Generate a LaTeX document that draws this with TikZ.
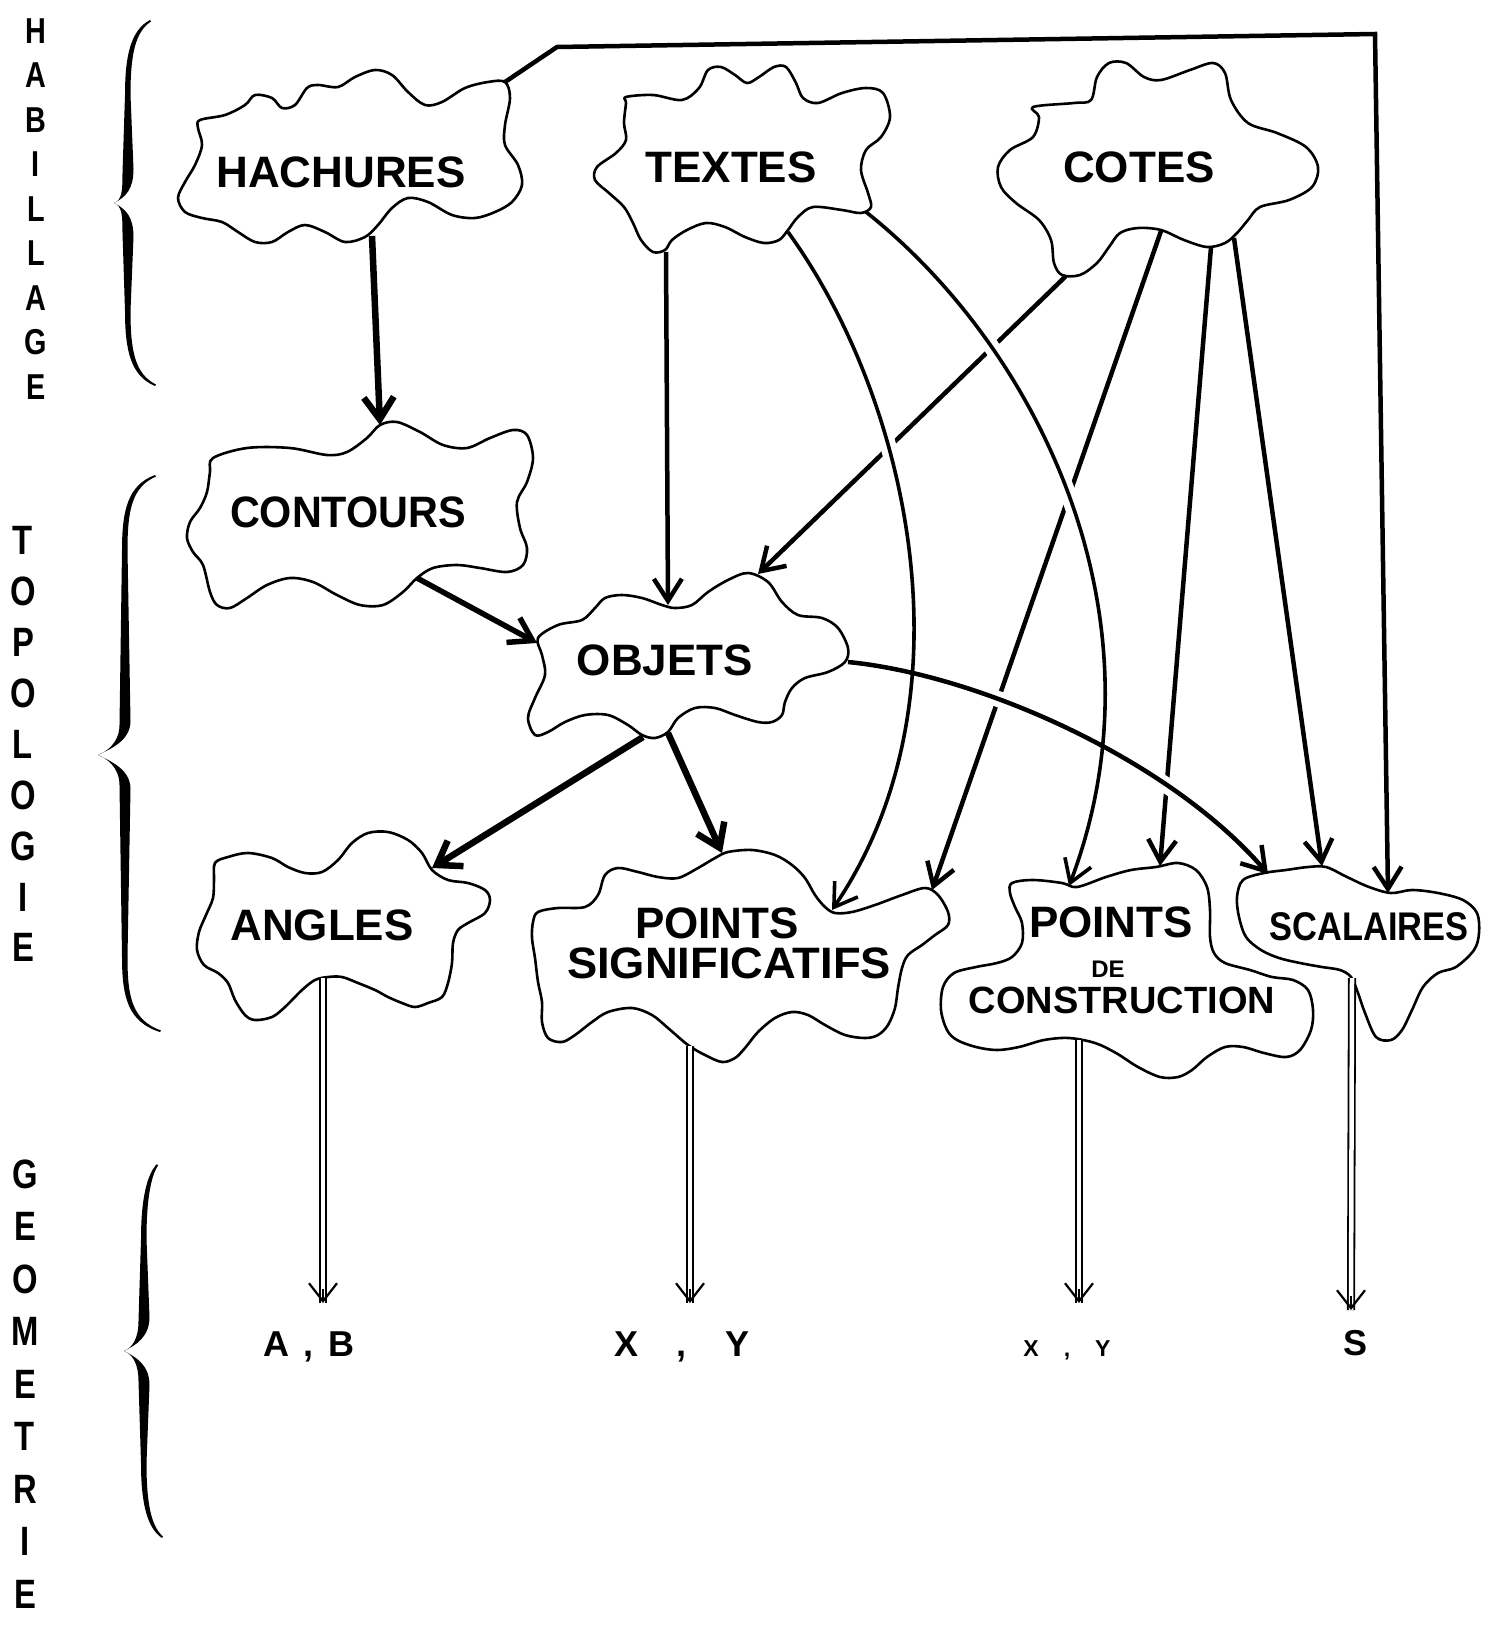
\documentclass[tikz,border=0pt]{standalone}
\usepackage{fontspec}
\setmainfont{Liberation Sans}
\usetikzlibrary{arrows.meta}
% #1 spine x, #2 top y, #3 tip y, #4 bottom y, #5 top end x, #6 tip x
\newcommand{\mybrace}[6]{%
 \fill (#5,#2) .. controls ({#1+3},{#2+10}) and ({#1-3},{#2+35}) .. ({#1-3},{#2+75})
   -- ({#1-5.5},{#3-30}) .. controls ({#1-5.5},{#3-12}) and ({#6+8},{#3-3}) .. (#6,#3)
   .. controls ({#6+12},{#3-6}) and ({#1+5.5},{#3-14}) .. ({#1+5.5},{#3-34})
   -- ({#1+2.5},{#2+75}) .. controls ({#1+2.5},{#2+35}) and ({#1+7},{#2+12}) .. ({#5+1},{#2+1.5}) -- cycle;
 \fill (#6,#3) .. controls ({#6+8},{#3+3}) and ({#1-5.5},{#3+12}) .. ({#1-5.5},{#3+30})
   -- ({#1-3},{#4-75}) .. controls ({#1-3},{#4-35}) and ({#1+3},{#4-10}) .. ({#5+5},#4)
   -- ({#5+6},{#4-1.5}) .. controls ({#1+7},{#4-12}) and ({#1+2.5},{#4-35}) .. ({#1+2.5},{#4-75})
   -- ({#1+5.5},{#3+34}) .. controls ({#1+5.5},{#3+14}) and ({#6+12},{#3+6}) .. (#6,#3) -- cycle;
}
\begin{document}
\begin{tikzpicture}[x=1pt,y=-1pt,
  cloudline/.style={line width=2.6pt, line join=round},
  word/.style={inner sep=0pt, anchor=base, font=\bfseries\fontsize{44}{48}\selectfont},
  sideH/.style={inner sep=0pt, anchor=base, font=\bfseries\fontsize{36}{40}\selectfont},
  side/.style={inner sep=0pt, anchor=base, font=\bfseries\fontsize{41}{44}\selectfont},
  lab/.style={inner sep=0pt, anchor=base, font=\bfseries\fontsize{36}{40}\selectfont},
  labsmall/.style={inner sep=0pt, anchor=base, font=\bfseries\fontsize{23}{26}\selectfont},
  conn/.style={line width=4.5pt, -{Straight Barb[length=22pt,width=28pt]}},
  thinconn/.style={line width=3.6pt, -{Straight Barb[length=22pt,width=28pt]}},
  heavy/.style={line width=6.5pt, -{Straight Barb[length=22pt,width=30pt]}},
  halo/.style={preaction={draw=white, line width=16pt, arrows=-}},
  dblshaft/.style={double, double distance=4.5pt, line width=1.8pt},
  dbltip/.style={line width=2.2pt, -{Straight Barb[length=18pt,width=28pt]}},
]
\fill[white] (0,0) rectangle (1491,1625);
\path[use as bounding box] (0,0) rectangle (1491,1625);

% ---- side labels and braces
\foreach \l [count=\i from 0] in {H,A,B,I,L,L,A,G,E}
  \node[sideH] (hab\i) at (36,{43+44.5*\i}) {\scalebox{0.8}[1]{\l}};
\foreach \l [count=\i from 0] in {T,O,P,O,L,O,G,I,E}
  \node[side] (top\i) at (23,{554.7+50.9*\i}) {\scalebox{0.8}[1]{\l}};
\foreach \l [count=\i from 0] in {G,E,O,M,E,T,R,I,E}
  \node[side] (geo\i) at (25,{1188+52.5*\i}) {\scalebox{0.8}[1]{\l}};
\mybrace{128}{20}{203}{386}{150}{114}
\mybrace{125}{475}{755}{1032}{155}{98}
\mybrace{144}{1164}{1351}{1538}{157}{124}

% ---- ports on the cloud outlines
\coordinate (hach-ne) at (505,82);   \coordinate (hach-s) at (372,236);
\coordinate (bend1) at (557,47);     \coordinate (bend2) at (1375,34);
\coordinate (tex-s) at (666,252);    \coordinate (tex-se1) at (788,232); \coordinate (tex-se2) at (866,212);
\coordinate (cot-sw) at (1066,276);  \coordinate (cot-s1) at (1161,231);
\coordinate (cot-s2) at (1211,247);  \coordinate (cot-s3) at (1234,238);
\coordinate (con-n) at (380,425);    \coordinate (con-se) at (417,578);
\coordinate (obj-w) at (537,643);    \coordinate (obj-n) at (668,605);   \coordinate (obj-ne) at (758,574);
\coordinate (obj-e) at (848,662);    \coordinate (obj-s1) at (643,737);  \coordinate (obj-s2) at (668,733);
\coordinate (ang-ne) at (432,868);   \coordinate (ang-s) at (323,978);
\coordinate (psig-n) at (722,853);   \coordinate (psig-ne1) at (832,910); \coordinate (psig-ne2) at (932,890);
\coordinate (psig-s) at (690,1046);
\coordinate (pcon-n1) at (1069,886); \coordinate (pcon-n2) at (1160,866); \coordinate (pcon-s) at (1079,1040);
\coordinate (scal-n1) at (1268,874); \coordinate (scal-n2) at (1322,866); \coordinate (scal-n3) at (1388,893);
\coordinate (scal-s) at (1352,978);
\coordinate (ab-tip) at (323,1303);  \coordinate (xy-tip) at (690,1303);
\coordinate (xys-tip) at (1079,1303); \coordinate (s-tip) at (1351,1310);

% ---- connectors (lower layer)
\draw[conn] (cot-sw) -- (obj-ne);
\draw[conn] (cot-s1) -- (psig-ne2);
\draw[conn] (cot-s2) -- (pcon-n2);
\draw[conn] (cot-s3) -- (scal-n2);
\path[preaction={draw=white, line width=16pt}] (obj-e) .. controls (980,675) and (1170,760) .. (scal-n1);
\draw[thinconn, halo] (tex-se1) .. controls (910,400) and (975,700) .. (psig-ne1);
\draw[thinconn, halo] (tex-se2) .. controls (1040,350) and (1170,620) .. (pcon-n1);
\draw[conn] (obj-e) .. controls (980,675) and (1170,760) .. (scal-n1);
\draw[conn] (hach-ne) -- (bend1) -- (bend2) -- (scal-n3);
\draw[heavy] (hach-s) -- (con-n);
\draw[conn] (tex-s) -- (obj-n);
\draw[conn, line width=5.5pt] (con-se) -- (obj-w);
\draw[heavy] (obj-s1) -- (ang-ne);
\draw[heavy] (obj-s2) -- (psig-n);

% ---- clouds
\draw[cloudline] plot[smooth cycle, tension=0.55] coordinates {(200,120) (225,115) (245,105) (255,95) (272,98) (282,108) (295,105) (307,88) (318,85) (338,87) (355,77) (375,70) (392,75) (408,92) (425,105) (442,102) (465,88) (488,82) (505,82) (510,98) (505,125) (505,145) (518,165) (522,185) (512,202) (495,212) (475,218) (452,215) (428,202) (408,198) (392,208) (378,225) (365,237) (345,242) (325,232) (305,225) (288,232) (272,242) (255,242) (238,232) (222,222) (202,218) (185,212) (178,198) (185,182) (195,165) (202,145) (198,128)};
\draw[cloudline] plot[smooth cycle, tension=0.55] coordinates {(626,97) (653,95) (682,100) (699,88) (708,70) (721,67) (735,75) (747,83) (759,77) (774,67) (786,67) (796,83) (803,98) (818,103) (842,93) (866,88) (883,93) (890,117) (881,137) (866,150) (861,170) (868,193) (871,207) (861,213) (842,210) (813,207) (798,217) (788,230) (779,240) (764,243) (745,237) (725,227) (706,223) (687,230) (672,240) (665,250) (653,252) (641,240) (633,223) (624,207) (609,193) (595,180) (597,167) (616,153) (626,140) (624,123) (626,103)};
\draw[cloudline] plot[smooth cycle, tension=0.55] coordinates {(1033,107) (1074,103) (1091,100) (1097,77) (1109,63) (1126,63) (1144,77) (1161,80) (1190,70) (1213,63) (1225,73) (1231,100) (1248,123) (1277,133) (1306,147) (1318,167) (1312,187) (1289,200) (1260,207) (1248,220) (1237,233) (1225,243) (1207,247) (1184,240) (1161,230) (1138,228) (1120,233) (1109,247) (1097,263) (1080,275) (1062,275) (1054,263) (1051,240) (1039,220) (1016,203) (1001,187) (998,167) (1010,150) (1033,137) (1039,117)};
\draw[cloudline] plot[smooth cycle, tension=0.55] coordinates {(213,458) (247,448) (290,448) (327,455) (347,452) (367,438) (380,425) (397,422) (420,432) (443,445) (467,448) (490,438) (513,430) (527,435) (533,458) (527,482) (517,502) (520,528) (527,548) (523,565) (507,572) (480,568) (457,565) (433,568) (417,578) (403,592) (383,605) (360,605) (337,595) (313,582) (290,578) (267,585) (247,598) (230,608) (217,605) (210,592) (203,565) (193,552) (187,538) (190,522) (200,508) (207,492) (210,472)};
\draw[cloudline] plot[smooth cycle, tension=0.55] coordinates {(538,638) (558,625) (582,620) (595,608) (605,598) (622,595) (642,598) (662,605) (675,608) (692,605) (708,592) (728,580) (748,573) (768,582) (782,602) (798,615) (822,618) (838,628) (848,648) (845,662) (828,672) (805,678) (792,688) (785,702) (782,715) (772,722) (758,722) (735,715) (715,708) (695,708) (678,718) (668,732) (655,738) (642,735) (628,725) (608,715) (585,715) (565,722) (548,732) (535,735) (528,718) (535,698) (545,675) (542,655)};
\draw[cloudline] plot[smooth cycle, tension=0.55] coordinates {(215,863) (228,857) (248,853) (272,858) (288,867) (305,873) (322,872) (338,860) (352,843) (368,833) (388,832) (408,840) (422,853) (432,870) (448,880) (468,883) (485,890) (490,900) (485,913) (468,923) (458,930) (453,943) (452,963) (448,983) (442,997) (428,1003) (415,1007) (402,1003) (388,997) (375,990) (358,983) (342,977) (328,977) (315,980) (302,990) (285,1007) (272,1017) (255,1020) (245,1015) (235,1000) (228,983) (218,973) (204,965) (197,950) (199,932) (206,915) (213,898) (214,880)};
\draw[cloudline] plot[smooth cycle, tension=0.55] coordinates {(538,912) (558,908) (585,907) (598,895) (605,875) (618,868) (638,872) (658,877) (678,878) (698,868) (715,858) (728,852) (752,850) (775,855) (792,865) (805,878) (815,895) (825,907) (835,913) (852,912) (875,905) (902,895) (925,888) (938,895) (948,912) (948,925) (935,935) (922,945) (908,955) (902,968) (898,988) (895,1008) (888,1025) (878,1035) (865,1038) (845,1035) (825,1025) (808,1015) (792,1012) (775,1018) (758,1032) (745,1048) (735,1058) (722,1062) (705,1055) (688,1045) (668,1028) (652,1015) (632,1008) (608,1012) (592,1022) (575,1035) (562,1042) (548,1038) (542,1022) (542,1002) (538,982) (535,958) (532,938) (533,922)};
\draw[cloudline] plot[smooth cycle, tension=0.55] coordinates {(1012,883) (1033,880) (1062,883) (1077,887) (1106,877) (1131,870) (1156,867) (1178,863) (1196,870) (1207,887) (1210,910) (1210,937) (1214,953) (1225,963) (1250,970) (1272,977) (1293,980) (1308,990) (1313,1010) (1311,1030) (1300,1050) (1286,1057) (1264,1053) (1243,1047) (1225,1047) (1207,1057) (1192,1070) (1178,1077) (1160,1077) (1138,1067) (1116,1053) (1095,1043) (1069,1038) (1044,1040) (1019,1047) (997,1050) (976,1047) (957,1040) (947,1030) (941,1010) (943,987) (954,973) (976,967) (997,963) (1012,957) (1022,943) (1022,923) (1015,907) (1010,893)};
\draw[cloudline] plot[smooth cycle, tension=0.55] coordinates {(1243,880) (1264,873) (1286,870) (1308,867) (1326,867) (1347,877) (1369,887) (1391,893) (1412,890) (1438,893) (1463,900) (1477,913) (1479,933) (1474,950) (1456,967) (1438,973) (1423,987) (1412,1010) (1402,1030) (1391,1040) (1376,1037) (1365,1013) (1358,993) (1351,977) (1340,970) (1322,967) (1300,963) (1279,958) (1261,950) (1246,937) (1239,917) (1237,897)};

% ---- cloud texts
\node[word] (hach) at (341,187) {HACHURES};
\node[word] (textes) at (731,182) {TEXTES};
\node[word] (cotes) at (1139,182) {COTES};
\node[word] (contours) at (348,527) {\scalebox{0.94}[1]{CONTOURS}};
\node[word] (objets) at (665,675) {OBJETS};
\node[word] (angles) at (322,940) {ANGLES};
\node[word] (psig) at (717,938) {POINTS};
\node[word] (psig2) at (729,978) {\scalebox{1.03}[1]{SIGNIFICATIFS}};
\node[word] (pcons) at (1111,937) {POINTS};
\node[word, font=\bfseries\fontsize{24}{26}\selectfont] (pcons2) at (1108,977) {DE};
\node[word, font=\bfseries\fontsize{38}{40}\selectfont] (pcons3) at (1122,1013) {CONSTRUCTION};
\node[word, font=\bfseries\fontsize{40}{42}\selectfont] (scal) at (1369,940) {\scalebox{0.86}[1]{SCALAIRES}};

% ---- geometry level
\node[lab] (ab) at (309,1356) {A\hspace{15pt},\hspace{15pt}B};
\node[lab] (xy) at (682,1356) {X\hspace{38pt},\hspace{38pt}Y};
\node[labsmall] (xys) at (1067,1356) {X\hspace{25pt},\hspace{25pt}Y};
\node[lab] (s) at (1355,1355) {S};

\draw[dblshaft] (ang-s) -- (ab-tip);
\draw[dbltip] ([yshift=14pt]ab-tip) -- (ab-tip);
\draw[dblshaft] (psig-s) -- (xy-tip);
\draw[dbltip] ([yshift=14pt]xy-tip) -- (xy-tip);
\draw[dblshaft] (pcon-s) -- (xys-tip);
\draw[dbltip] ([yshift=14pt]xys-tip) -- (xys-tip);
\draw[dblshaft] (scal-s) -- (s-tip);
\draw[dbltip] ([yshift=14pt]s-tip) -- (s-tip);
\end{tikzpicture}
\end{document}
